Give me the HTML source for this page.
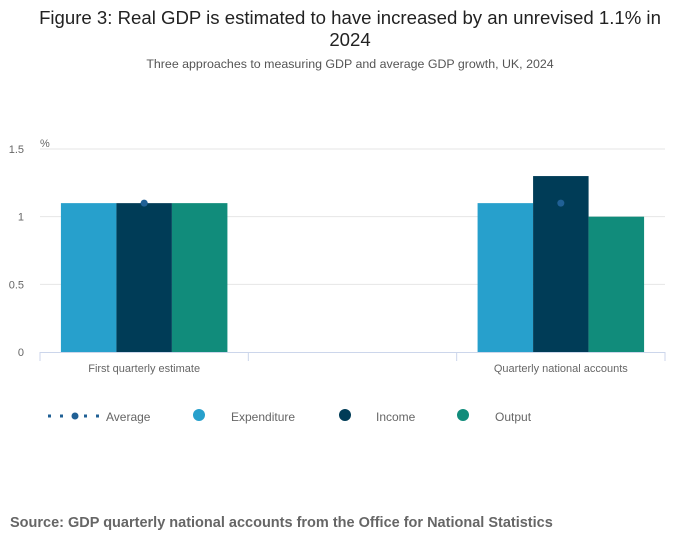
<!DOCTYPE html>
<html><head><meta charset="utf-8"><style>
body{margin:0;background:#fff;font-family:"Liberation Sans",sans-serif;}
</style></head><body>
<svg width="700" height="549" xmlns="http://www.w3.org/2000/svg">
<text x="350" y="24" text-anchor="middle" font-size="18.6" fill="#222">Figure 3: Real GDP is estimated to have increased by an unrevised 1.1% in</text>
<text x="350" y="46" text-anchor="middle" font-size="18.6" fill="#222">2024</text>
<text x="350" y="68" text-anchor="middle" font-size="12.4" fill="#555">Three approaches to measuring GDP and average GDP growth, UK, 2024</text>
<text x="40" y="147" font-size="11" fill="#666">%</text>
<g id="grid"></g><g id="bars"></g><g id="axis"></g><g id="dots"></g>
<g>
<g>
<line x1="48" y1="416" x2="100" y2="416" stroke="#206095" stroke-width="3" stroke-dasharray="3,9"/>
<circle cx="75" cy="416" r="3.5" fill="#206095"/>
<text x="106" y="421" font-size="12" fill="#666">Average</text></g>
<g><circle cx="199" cy="415" r="6" fill="#27a0cc"/><text x="231" y="421" font-size="12" fill="#666">Expenditure</text></g>
<g><circle cx="345" cy="415" r="6" fill="#003c57"/><text x="376" y="421" font-size="12" fill="#666">Income</text></g>
<g><circle cx="463" cy="415" r="6" fill="#118c7b"/><text x="495" y="421" font-size="12" fill="#666">Output</text></g>
</g>
<text x="10" y="527" font-size="14.5" font-weight="bold" fill="#666">Source: GDP quarterly national accounts from the Office for National Statistics</text>
</svg>
<script>
const categories=["First quarterly estimate","","Quarterly national accounts"];
const expenditure=[1.1,null,1.1];
const income=[1.1,null,1.3];
const output=[1.1,null,1.0];
const average=[1.1,null,1.1];
const yTicks=[0,0.5,1,1.5];
const tickLabels=["0","0.5","1","1.5"];
const NS="http://www.w3.org/2000/svg";
const X0=40,X1=665,Y0=352,Y1=149;
const y=v=>Y0-(v/1.5)*(Y0-Y1);
const slot=(X1-X0)/categories.length;
const cx=i=>X0+slot*(i+0.5);
function mk(t,a,p){const e=document.createElementNS(NS,t);for(const k in a)e.setAttribute(k,a[k]);p.appendChild(e);return e;}
const grid=document.getElementById('grid'),bars=document.getElementById('bars'),axis=document.getElementById('axis'),dots=document.getElementById('dots');
yTicks.forEach((v,i)=>{
 if(v>0){const l=mk('line',{x1:X0,x2:X1,y1:y(v),y2:y(v),stroke:'#e6e6e6'},grid);
 
 }
 const t=mk('text',{x:24,y:y(v)+4,'text-anchor':'end','font-size':11,fill:'#666'},grid);t.textContent=tickLabels[i];
 
 
});
mk('line',{x1:X0,x2:X1,y1:Y0+0.5,y2:Y0+0.5,stroke:'#ccd6eb'},axis);
for(let i=0;i<=categories.length;i++){mk('line',{x1:X0+slot*i,x2:X0+slot*i,y1:Y0,y2:Y0+9,stroke:'#ccd6eb'},axis);}
categories.forEach((c,i)=>{if(!c)return;const t=mk('text',{x:cx(i),y:372,'text-anchor':'middle','font-size':11,fill:'#666'},axis);t.textContent=c;
 
 });
const series=[[expenditure,'#27a0cc','expenditure'],[income,'#003c57','income'],[output,'#118c7b','output']];
const bw=55.5;
series.forEach(([vals,col,name],s)=>{vals.forEach((v,i)=>{if(v==null)return;
 const r=mk('rect',{x:cx(i)+(s-1.5)*bw,y:y(v),width:bw,height:Y0-y(v),fill:col},bars);
 
 });});
average.forEach((v,i)=>{if(v==null)return;const c=mk('circle',{cx:cx(i),cy:y(v),r:3.5,fill:'#206095'},dots);
 
 });
</script>
</body></html>
